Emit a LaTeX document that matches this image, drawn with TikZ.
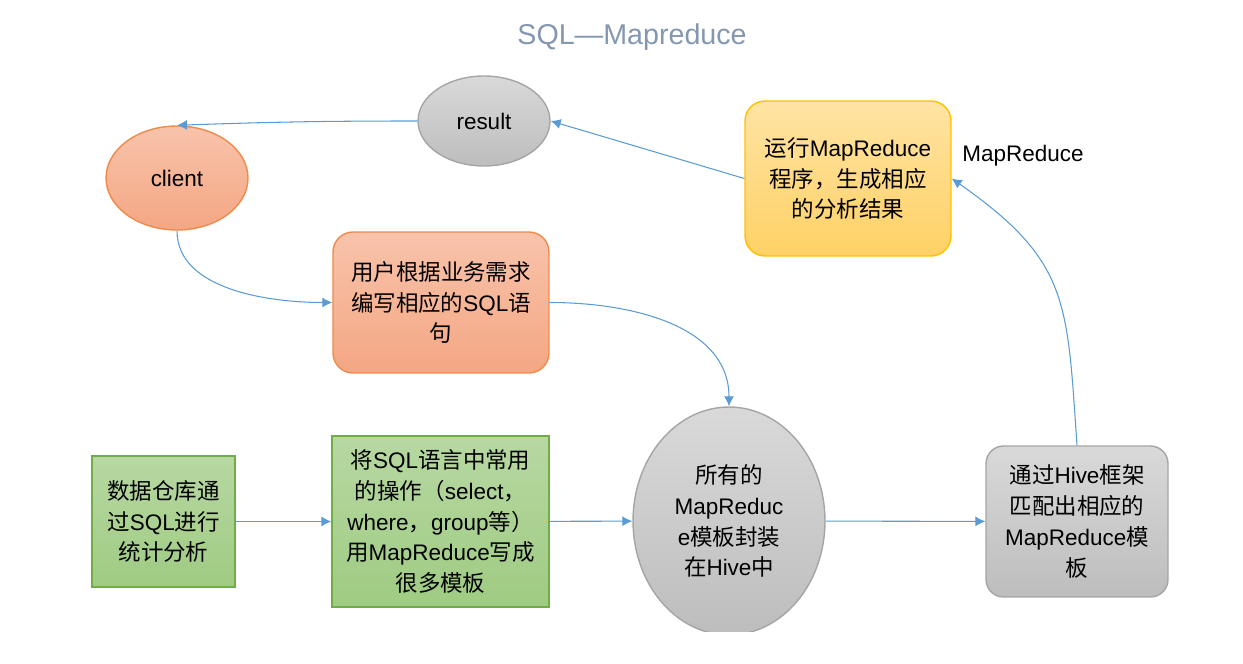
\documentclass[tikz,border=0pt]{standalone}
\usepackage{fontspec}
\setmainfont{Liberation Sans}
\newfontfamily\cjk{Noto Sans CJK SC}
\newcommand{\zh}[1]{{\cjk #1}}
\usepackage{tikz}
\usetikzlibrary{arrows.meta,shapes.geometric}
\definecolor{flowBlue}{HTML}{5B9BD5}
\definecolor{titleSlate}{HTML}{8497B0}
\definecolor{salmonTop}{HTML}{F8C3AB}
\definecolor{salmonBot}{HTML}{F4A783}
\definecolor{salmonLine}{HTML}{F08A4B}
\definecolor{grayTop}{HTML}{D9D9D9}
\definecolor{grayBot}{HTML}{BDBDBD}
\definecolor{grayLine}{HTML}{A5A5A5}
\definecolor{amberTop}{HTML}{FFE4A3}
\definecolor{amberBot}{HTML}{FFD166}
\definecolor{amberLine}{HTML}{FFC000}
\definecolor{leafTop}{HTML}{B7D8A2}
\definecolor{leafBot}{HTML}{9FCB82}
\definecolor{leafLine}{HTML}{70AD47}

\begin{document}
\begin{tikzpicture}[x=0.02cm, y=0.02cm, >={Latex[length=2mm,width=2mm]},
    font=\fontsize{12.8}{17.6}\selectfont,
    flow/.style={->, draw=flowBlue, line width=0.6pt},
    salmon/.style={draw=salmonLine, top color=salmonTop, bottom color=salmonBot, line width=0.8pt},
    grayish/.style={draw=grayLine, top color=grayTop, bottom color=grayBot, line width=0.8pt},
    amber/.style={draw=amberLine, top color=amberTop, bottom color=amberBot, line width=0.8pt},
    leaf/.style={draw=leafLine, top color=leafTop, bottom color=leafBot, line width=0.8pt},
    blob/.style={ellipse, inner sep=0pt, align=center},
    card/.style={rectangle, inner sep=0pt, align=center}]
    \useasboundingbox (0,0) rectangle (1243,663);

    \node[font=\fontsize{16.3}{19}\selectfont, text=titleSlate] (title) at (632,626) {SQL—Mapreduce};

    % top row
    \node[blob, grayish, minimum width=2.64cm, minimum height=1.8cm] (result) at (484,542) {result};
    \node[blob, salmon, minimum width=2.84cm, minimum height=2.08cm] (client) at (177,485) {client};
    \node[card, salmon, rounded corners=0.4cm, minimum width=4.32cm, minimum height=2.82cm] (userReq) at (441,360.5)
        {\zh{用户根据业务需求}\\\zh{编写相应的}SQL\zh{语}\\\zh{句}};
    \node[card, amber, rounded corners=0.4cm, minimum width=4.12cm, minimum height=3.1cm] (runJob) at (848,484.5)
        {\zh{运行}MapReduce\\\zh{程序，生成相应}\\\zh{的分析结果}};
    \node (mrLabel) at (1023,507) {MapReduce};

    % bottom row
    \node[card, leaf, minimum width=2.86cm, minimum height=2.62cm] (dwBox) at (163.5,141.5)
        {\zh{数据仓库通}\\\zh{过}SQL\zh{进行}\\\zh{统计分析}};
    \node[card, leaf, minimum width=4.34cm, minimum height=3.42cm] (tplBox) at (440.5,141.5)
        {\zh{将}SQL\zh{语言中常用}\\\zh{的操作（}select\zh{，}\\where\zh{，}group\zh{等）}\\\zh{用}MapReduce\zh{写成}\\\zh{很多模板}};
    \begin{scope}
        \clip (0,32) rectangle (1243,663);
        \node[blob, grayish, minimum width=3.84cm, minimum height=4.56cm] (hive) at (729,142)
            {\zh{所有的}\\MapReduc\\e\zh{模板封装}\\\zh{在}Hive\zh{中}};
    \end{scope}
    \node[card, grayish, rounded corners=0.35cm, minimum width=3.64cm, minimum height=3.02cm] (match) at (1077,141.5)
        {\zh{通过}Hive\zh{框架}\\\zh{匹配出相应的}\\MapReduce\zh{模}\\\zh{板}};

    % connectors
    \draw[flow] (result.west) to[out=180,in=2] (client.north);
    \draw[flow] (runJob.west) -- (result.east);
    \draw[flow] (client.south) to[out=-90,in=180,looseness=0.9] (userReq.west);
    \draw[flow] (userReq.east) to[out=0,in=90] (hive.north);
    \draw[flow] (dwBox) -- (tplBox);
    \draw[flow] (tplBox) -- (hive);
    \draw[flow] (hive) -- (match);
    \draw[flow] (match.north) to[out=94,in=-35,looseness=1.25] (runJob.east);
\end{tikzpicture}
\end{document}
